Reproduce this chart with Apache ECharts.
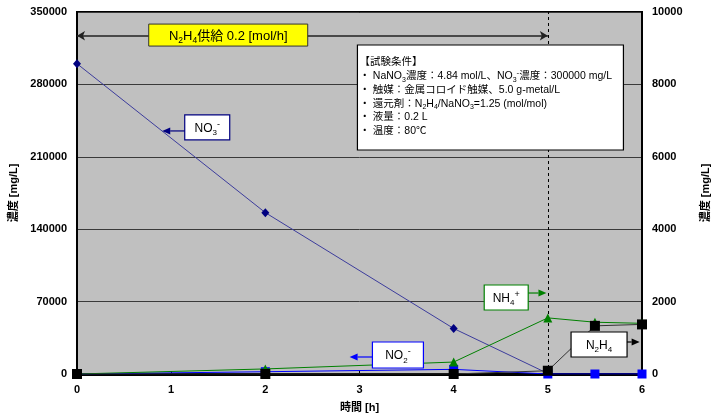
<!DOCTYPE html>
<html>
<head>
<meta charset="utf-8">
<script src="https://cdn.jsdelivr.net/npm/echarts@6/dist/echarts.min.js"></script>
<style>
  html, body { margin: 0; padding: 0; background: #fff; }
  #chart { width: 719px; height: 419px; }
</style>
</head>
<body>
<div id="chart"></div>
<script>
// Time points [h]
const timeNO3 = [0, 2, 4, 5];
const timeAll = [0, 2, 4, 5, 5.5, 6];
// Concentrations [mg/L]
const no3Values = [300000, 156000, 44000, 500];        // left axis
const no2Values = [0, 2200, 4500, 0, 0, 0];            // left axis
const nh4Values = [0, 140, 330, 1550, 1430, 1400];     // right axis
const n2h4Values = [0, 0, 0, 90, 1330, 1370];          // right axis

const leftTicks = { min: 0, max: 350000, interval: 70000 };
const rightTicks = { min: 0, max: 10000, interval: 2000 };
const xTicks = { min: 0, max: 6, interval: 1 };

const supplyEnd = 5; // N2H4 supply stops at 5 h

const FONT = '"Liberation Sans", Arial, "Noto Sans CJK JP", sans-serif';
const JFONT = '"Liberation Sans", "Noto Sans CJK JP", sans-serif';

const pair = (xs, ys) => xs.map((x, i) => [x, ys[i]]);
const plain = v => String(v);

const chart = echarts.init(document.getElementById('chart'), null, { renderer: 'canvas' });

const axisLabelStyle = { color: '#000', fontFamily: FONT, fontSize: 11, fontWeight: 'bold', formatter: plain };

chart.setOption({
  animation: false,
  backgroundColor: '#fff',
  grid: {
    left: 76, right: 77, top: 12, bottom: 45,
    show: true, backgroundColor: '#c0c0c0', borderColor: '#000', borderWidth: 2
  },
  xAxis: {
    type: 'value', min: xTicks.min, max: xTicks.max, interval: xTicks.interval,
    name: '時間 [h]', nameLocation: 'middle', nameGap: 28,
    nameTextStyle: { color: '#000', fontFamily: JFONT, fontSize: 11, fontWeight: 'bold' },
    axisLine: { show: true, lineStyle: { color: '#000', width: 3 } },
    axisTick: { show: true, inside: true, length: 3, lineStyle: { color: '#000', width: 1 } },
    axisLabel: Object.assign({ margin: 10 }, axisLabelStyle),
    splitLine: { show: false }
  },
  yAxis: [
    {
      type: 'value', min: leftTicks.min, max: leftTicks.max, interval: leftTicks.interval,
      name: '濃度 [mg/L]', nameLocation: 'middle', nameGap: 58, nameRotate: 90,
      nameTextStyle: { color: '#000', fontFamily: JFONT, fontSize: 11, fontWeight: 'bold' },
      axisLine: { show: true, lineStyle: { color: '#000', width: 2 } },
      axisTick: { show: false },
      axisLabel: Object.assign({ margin: 10 }, axisLabelStyle),
      splitLine: { show: true, lineStyle: { color: '#3a3a3a', width: 1 } }
    },
    {
      type: 'value', min: rightTicks.min, max: rightTicks.max, interval: rightTicks.interval,
      name: '濃度 [mg/L]', nameLocation: 'middle', nameGap: 58, nameRotate: 90,
      nameTextStyle: { color: '#000', fontFamily: JFONT, fontSize: 11, fontWeight: 'bold' },
      axisLine: { show: true, lineStyle: { color: '#000', width: 2 } },
      axisTick: { show: false },
      axisLabel: Object.assign({ margin: 10 }, axisLabelStyle),
      splitLine: { show: false }
    }
  ],
  series: [
    {
      name: 'NO3-', type: 'line', yAxisIndex: 0,
      data: pair(timeNO3, no3Values),
      symbol: 'diamond', symbolSize: [8, 9], showAllSymbol: true,
      lineStyle: { color: '#3c3c9c', width: 1 },
      itemStyle: { color: '#000080' },
      z: 3,
      markLine: {
        silent: true, animation: false, z: 1,
        label: { show: false },
        data: [
          // dashed marker of the supply end
          [{ coord: [supplyEnd, leftTicks.min], symbol: 'none' },
           { coord: [supplyEnd, leftTicks.max], symbol: 'none',
             lineStyle: { color: '#000', width: 1, type: [3, 3] } }],
          // supply period arrow
          [{ coord: [0, 327000], symbol: 'arrow', symbolSize: [7, 8] },
           { coord: [supplyEnd, 327000], symbol: 'arrow', symbolSize: [7, 8],
             lineStyle: { color: '#222', width: 1.5, type: 'solid' } }]
        ]
      }
    },
    {
      name: 'NO2-', type: 'line', yAxisIndex: 0,
      data: pair(timeAll, no2Values),
      symbol: 'rect', symbolSize: 9,
      lineStyle: { color: '#0000ff', width: 1 },
      itemStyle: { color: '#0000ff' },
      z: 4
    },
    {
      name: 'NH4+', type: 'line', yAxisIndex: 1,
      data: pair(timeAll, nh4Values),
      symbol: 'triangle', symbolSize: 9,
      lineStyle: { color: '#008000', width: 1 },
      itemStyle: { color: '#008000' },
      z: 5
    },
    {
      name: 'N2H4', type: 'line', yAxisIndex: 1,
      data: pair(timeAll, n2h4Values),
      symbol: 'rect', symbolSize: 10,
      lineStyle: { color: '#333', width: 1 },
      itemStyle: { color: '#000' },
      z: 6
    }
  ]
});

// ---- annotations (placed in data space, converted to pixels) ----
const toPx = (x, y) => chart.convertToPixel({ xAxisIndex: 0, yAxisIndex: 0 }, [x, y]);
const ZA = 200;

const subRich = {
  n: { fontSize: 12, fontFamily: FONT, color: '#000', lineHeight: 16 },
  s: { fontSize: 8, fontFamily: FONT, color: '#000', lineHeight: 16, verticalAlign: 'bottom' },
  p: { fontSize: 9, fontFamily: FONT, color: '#000', lineHeight: 17, verticalAlign: 'top' }
};

function labelBox(cx, cy, w, h, text, border) {
  const c = toPx(cx, cy);
  return [
    { type: 'rect', z: ZA, shape: { x: c[0] - w / 2, y: c[1] - h / 2, width: w, height: h },
      style: { fill: '#fff', stroke: border, lineWidth: 1.2 } },
    { type: 'text', z: ZA + 1, x: c[0], y: c[1] + 1,
      style: { text: text, rich: subRich, align: 'center', verticalAlign: 'middle' } }
  ];
}

function arrow(x1, y1, x2, y2, color) {
  const a = toPx(x1, y1), b = toPx(x2, y2);
  const dx = b[0] - a[0], dy = b[1] - a[1];
  const len = Math.sqrt(dx * dx + dy * dy) || 1;
  const ux = dx / len, uy = dy / len;
  const hl = 8, hw = 3.5;
  const base = [b[0] - ux * hl, b[1] - uy * hl];
  return [
    { type: 'line', z: ZA, shape: { x1: a[0], y1: a[1], x2: base[0], y2: base[1] },
      style: { stroke: color, lineWidth: 1.2 } },
    { type: 'polygon', z: ZA,
      shape: { points: [b, [base[0] - uy * hw, base[1] + ux * hw], [base[0] + uy * hw, base[1] - ux * hw]] },
      style: { fill: color } }
  ];
}

const condRich = {
  t: { fontSize: 10.5, fontFamily: JFONT, color: '#000', lineHeight: 13.7 },
  s: { fontSize: 7, fontFamily: JFONT, color: '#000', lineHeight: 13.7, verticalAlign: 'bottom' },
  p: { fontSize: 8, fontFamily: JFONT, color: '#000', lineHeight: 14.5, verticalAlign: 'top' }
};
const condText = [
  '{t|【試験条件】}',
  '{t|・ NaNO}{s|3}{t|濃度：4.84 mol/L、NO}{s|3}{p|-}{t|濃度：300000 mg/L}',
  '{t|・ 触媒：金属コロイド触媒、5.0 g-metal/L}',
  '{t|・ 還元剤：N}{s|2}{t|H}{s|4}{t|/NaNO}{s|3}{t|=1.25 (mol/mol)}',
  '{t|・ 液量：0.2 L}',
  '{t|・ 温度：80℃}'
].join('\n');

const condTL = toPx(2.978, 318100);
const supplyC = toPx(1.606, 327700);

chart.setOption({
  graphic: [].concat(
    // supply label
    [
      { type: 'rect', z: ZA, shape: { x: supplyC[0] - 79.5, y: supplyC[1] - 11, width: 159, height: 22 },
        style: { fill: '#ffff00', stroke: '#333', lineWidth: 1 } },
      { type: 'text', z: ZA + 1, x: supplyC[0], y: supplyC[1] + 1,
        style: {
          text: '{n|N}{s|2}{n|H}{s|4}{n|供給 0.2 [mol/h]}',
          rich: {
            n: { fontSize: 13, fontFamily: JFONT, color: '#000', lineHeight: 17 },
            s: { fontSize: 8.5, fontFamily: JFONT, color: '#000', lineHeight: 17, verticalAlign: 'bottom' }
          },
          align: 'center', verticalAlign: 'middle'
        } }
    ],
    // test conditions
    [
      { type: 'rect', z: ZA, shape: { x: condTL[0], y: condTL[1], width: 266, height: 105 },
        style: { fill: '#fff', stroke: '#000', lineWidth: 1.2 } },
      { type: 'text', z: ZA + 1, x: condTL[0] + 2, y: condTL[1] + 10,
        style: { text: condText, rich: condRich, align: 'left', verticalAlign: 'top' } }
    ],
    // series labels
    labelBox(1.383, 238400, 45, 25, '{n|NO}{s|3}{p|-}', '#000080'),
    arrow(1.145, 235000, 0.905, 235000, '#000080'),
    labelBox(3.408, 18370, 51, 26, '{n|NO}{s|2}{p|-}', '#0000ff'),
    arrow(3.138, 16440, 2.895, 16440, '#0000ff'),
    labelBox(4.558, 73960, 44, 25, '{n|NH}{s|4}{p|+}', '#008000'),
    arrow(4.792, 78300, 4.985, 78300, '#008000'),
    labelBox(5.544, 28520, 56, 25, '{n|N}{s|2}{n|H}{s|4}', '#000'),
    arrow(5.84, 30940, 5.975, 30940, '#000')
  )
});
</script>
</body>
</html>
